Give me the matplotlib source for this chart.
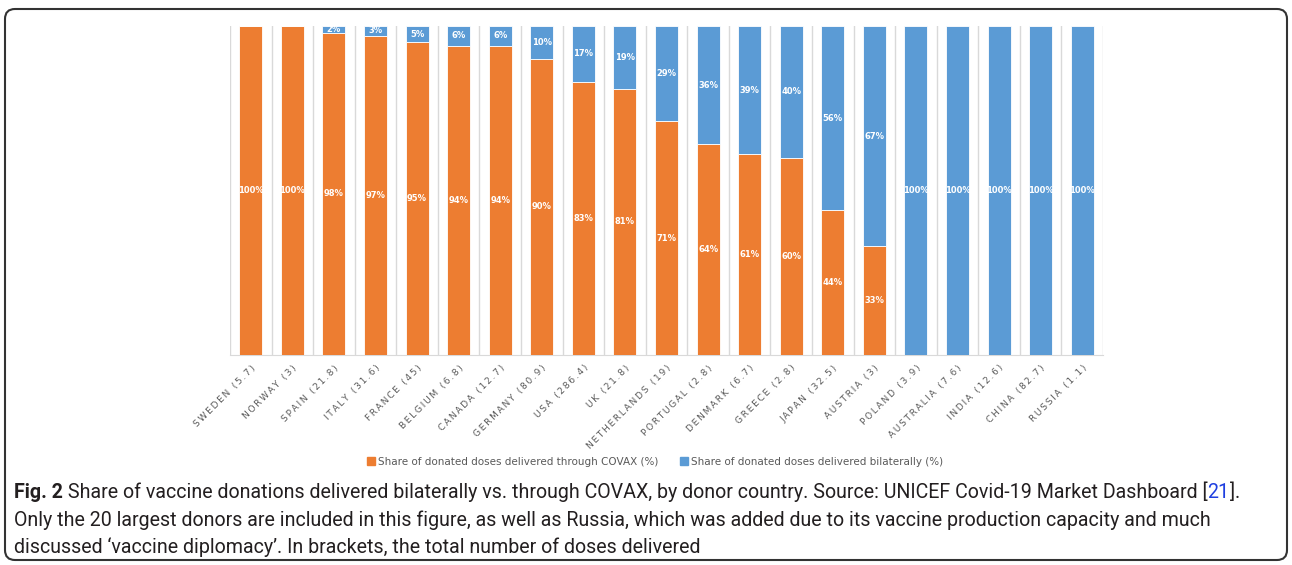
import numpy as np
import matplotlib.pyplot as plt
from matplotlib.patches import FancyBboxPatch, Patch
from matplotlib.transforms import IdentityTransform

countries = ['SWEDEN', 'NORWAY', 'SPAIN', 'ITALY', 'FRANCE', 'BELGIUM', 'CANADA',
             'GERMANY', 'USA', 'UK', 'NETHERLANDS', 'PORTUGAL', 'DENMARK', 'GREECE',
             'JAPAN', 'AUSTRIA', 'POLAND', 'AUSTRALIA', 'INDIA', 'CHINA', 'RUSSIA']
doses = ['5.7', '3', '21.8', '31.6', '45', '6.8', '12.7', '80.9', '286.4', '21.8', '19',
         '2.8', '6.7', '2.8', '32.5', '3', '3.9', '7.6', '12.6', '82.7', '1.1']
covax = [100, 100, 98, 97, 95, 94, 94, 90, 83, 81, 71, 64, 61, 60, 44, 33, 0, 0, 0, 0, 0]
bilateral = [0, 0, 2, 3, 5, 6, 6, 10, 17, 19, 29, 36, 39, 40, 56, 67, 100, 100, 100, 100, 100]

ORANGE = '#ED7D31'
BLUE = '#5B9BD5'
GREY = '#595959'

W, H = 1292, 565
fig = plt.figure(figsize=(W / 100, H / 100), dpi=100)
ax = fig.add_axes([230 / W, 1 - 355 / H, 873 / W, 329 / H])

x = np.arange(len(countries))
covax = np.array(covax)
bilateral = np.array(bilateral)
ax.bar(x, covax, width=0.55, color=ORANGE, edgecolor='white', linewidth=0.6, zorder=3)
ax.bar(x, bilateral, width=0.55, bottom=covax, color=BLUE, edgecolor='white',
       linewidth=0.6, zorder=3)

# segment labels
for i in range(len(x)):
    if covax[i] > 0:
        ax.text(x[i], covax[i] / 2, f'{covax[i]}%', ha='center', va='center',
                color='white', fontsize=6, fontweight='bold', zorder=4)
    if bilateral[i] > 0:
        ax.text(x[i], covax[i] + bilateral[i] / 2, f'{bilateral[i]}%', ha='center',
                va='center', color='white', fontsize=6, fontweight='bold', zorder=4)

ax.set_xlim(-0.5, len(x) - 0.5)
ax.set_ylim(0, 100)
ax.set_yticks([])
labels = ['\u2009'.join(f'{c} ({d})') for c, d in zip(countries, doses)]
ax.set_xticks(x)
ax.set_xticklabels(labels, rotation=45, ha='right', rotation_mode='anchor',
                   fontsize=6.5, color=GREY)
ax.tick_params(axis='x', length=0, pad=6)
ax.set_xticks(np.arange(len(x) + 1) - 0.5, minor=True)
ax.tick_params(axis='x', which='minor', length=0)
ax.grid(True, axis='x', which='minor', color='#D9D9D9', linewidth=1)
for s in ['top', 'right', 'left']:
    ax.spines[s].set_visible(False)
ax.spines['bottom'].set_color('#D9D9D9')

handles = [Patch(color=ORANGE, label='Share of donated doses delivered through COVAX (%)'),
           Patch(color=BLUE, label='Share of donated doses delivered bilaterally (%)')]
leg = fig.legend(handles=handles, loc='center', bbox_to_anchor=(655 / W, 1 - 462 / H),
                 ncol=2, frameon=False, fontsize=7.5, handlelength=0.8, handleheight=0.8,
                 handletextpad=0.3, columnspacing=2.0)
for t in leg.get_texts():
    t.set_color(GREY)

# outer rounded frame
frame = FancyBboxPatch((5, 5), 1282, 551, boxstyle='round,pad=0,rounding_size=10',
                       transform=IdentityTransform(), fill=False, edgecolor='#333333',
                       linewidth=1.5)
fig.patches.append(frame)

# caption
fig.canvas.draw()
renderer = fig.canvas.get_renderer()
cap_font = ['Roboto', 'DejaVu Sans']

line1 = [('Fig. 2', dict(fontweight='bold')),
         (' Share of vaccine donations delivered bilaterally vs. through COVAX, '
          'by donor country. Source: UNICEF Covid-19 Market Dashboard [', {}),
         ('21', dict(color='#1F3FE0')),
         (']', {}), ('.', {})]
line2 = [('Only the 20 largest donors are included in this figure, as well as '
          'Russia, which was added due to its vaccine production capacity and much', {})]
line3 = [('discussed \u2018vaccine diplomacy\u2019. In brackets, the total number '
          'of doses delivered', {})]


def draw_runs(x0, y0, runs, size):
    xx = x0
    for txt, kw in runs:
        style = dict(va='center', fontsize=size, family=cap_font, color='#231F20')
        style.update(kw)
        t = fig.text(xx / W, 1 - y0 / H, txt, **style)
        xx += t.get_window_extent(renderer).width
    return xx


# size the caption so the first line spans the same width as the original
probe = fig.text(0, 0, ''.join(r[0] for r in line1), fontsize=13, family=cap_font)
w13 = probe.get_window_extent(renderer).width
probe.remove()
cap_size = 13 * 1226 / w13

draw_runs(14, 492, line1, cap_size)
draw_runs(14, 520, line2, cap_size)
draw_runs(14, 547, line3, cap_size)

fig.savefig('out.png', dpi=100)
